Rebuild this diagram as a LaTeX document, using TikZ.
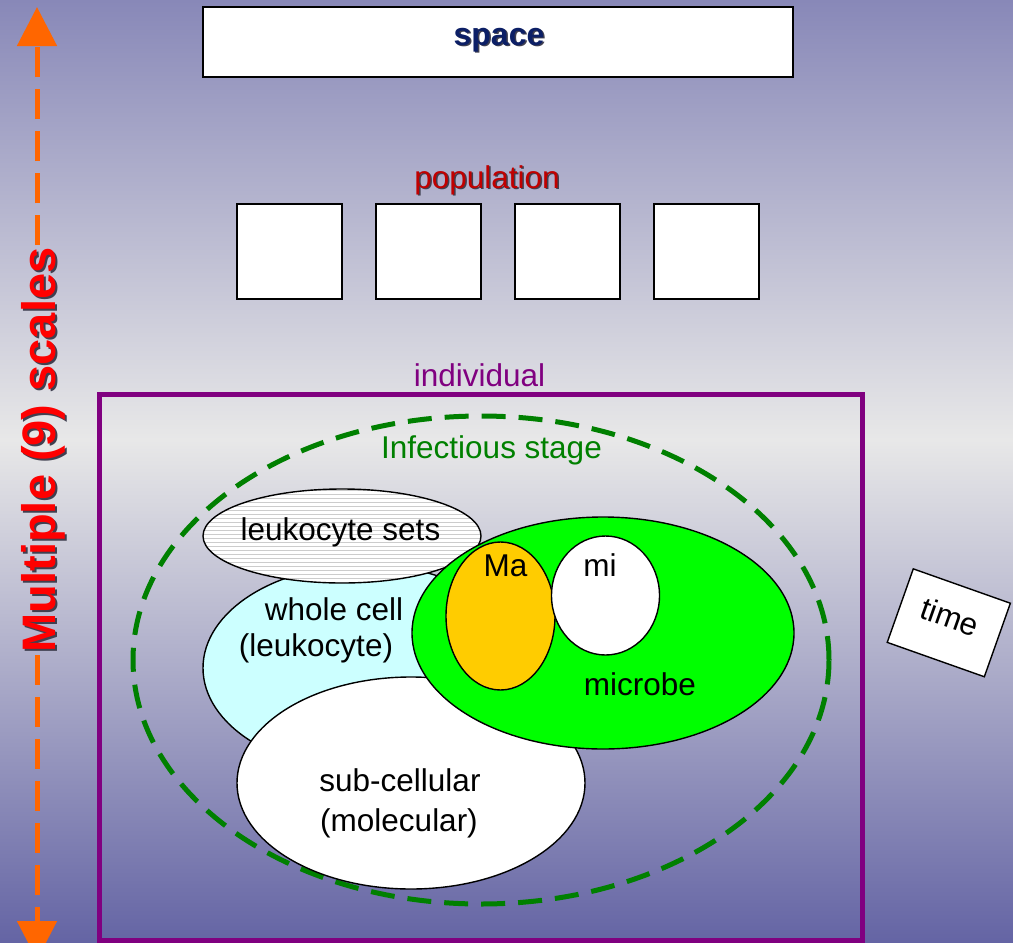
\documentclass[tikz,border=0pt]{standalone}
\usepackage{fontspec}
\setmainfont{Liberation Sans}
\usetikzlibrary{shapes.geometric,arrows.meta}
\definecolor{bgtop}{HTML}{8888B8}
\definecolor{bgmid}{HTML}{E8E8E8}
\definecolor{bgbot}{HTML}{6464A4}
\definecolor{arroworange}{HTML}{FF6600}
\definecolor{indpurple}{HTML}{800080}
\definecolor{infgreen}{HTML}{008000}
\definecolor{popred}{HTML}{C00000}
\definecolor{spaceblue}{HTML}{0C1F66}
\definecolor{cellcyan}{HTML}{CCFFFF}
\definecolor{microbegreen}{HTML}{00FF00}
\definecolor{maorange}{HTML}{FFCC00}
\definecolor{shadowgray}{HTML}{404050}
\begin{document}
\begin{tikzpicture}[x=1pt,y=-1pt,
  lbl/.style={font=\fontsize{31.5}{36}\selectfont, inner sep=0pt, anchor=base},
  blob/.style={ellipse, draw=black, line width=1.4pt, inner sep=0pt},
  whitebox/.style={rectangle, draw=black, fill=white, line width=1.4pt, inner sep=0pt},
  orangeline/.style={draw=arroworange, line width=5pt, dash pattern=on 30pt off 12pt, -{Triangle[length=39pt,width=39pt]}},
]
\useasboundingbox (0,0) rectangle (1013,943);
\clip (0,0) rectangle (1013,943);
% background
\shade[top color=bgtop, bottom color=bgmid] (0,0) rectangle (1013,440);
\shade[top color=bgmid, bottom color=bgbot] (0,439.5) rectangle (1013,943);

% vertical scale arrow
\coordinate (atop) at (37,7);
\coordinate (abot) at (37,960);
\coordinate (ttop) at (37,245);
\coordinate (tbot) at (37,655);
\draw[orangeline] (ttop) -- (atop);
\draw[orangeline] (tbot) -- (abot);
\node[text=shadowgray, rotate=90, anchor=base, inner sep=0pt, font=\fontsize{47}{52}\selectfont\bfseries] (scalesshadow) at (57,452) {Multiple (9) scales};
\node[text=red, rotate=90, anchor=base, inner sep=0pt, font=\fontsize{47}{52}\selectfont\bfseries] (scales) at (55,450) {Multiple (9) scales};

% space
\node[whitebox, minimum width=590, minimum height=70] (spacebox) at (498,42) {};
\node[lbl, text=shadowgray, font=\fontsize{32}{36}\selectfont\bfseries] (spaceshadow) at (500.5,46.5) {space};
\node[lbl, text=spaceblue, font=\fontsize{32}{36}\selectfont\bfseries] (spacelbl) at (499,45) {space};

% population
\node[lbl, text=shadowgray] (popshadow) at (488.5,189.5) {population};
\node[lbl, text=popred] (poplbl) at (487,188) {population};
\node[whitebox, minimum width=105, minimum height=95] (pop1) at (289.5,251.5) {};
\node[whitebox, minimum width=105, minimum height=95] (pop2) at (428.5,251.5) {};
\node[whitebox, minimum width=105, minimum height=95] (pop3) at (567.5,251.5) {};
\node[whitebox, minimum width=105, minimum height=95] (pop4) at (706.5,251.5) {};

% individual
\node[lbl, text=indpurple] (indlbl) at (479.5,386.5) {individual};
\node[draw=indpurple, line width=5pt, minimum width=763, minimum height=546, inner sep=0pt] (indiv) at (480.5,667) {};

% infectious stage
\node[ellipse, draw=infgreen, line width=5pt, dash pattern=on 24pt off 13pt, minimum width=696, minimum height=488, inner sep=0pt] (infect) at (481,660) {};
\node[lbl, text=infgreen] (inflbl) at (491.5,458) {Infectious stage};

% cells
\node[blob, fill=cellcyan, minimum width=324, minimum height=206] (wholecell) at (365,668) {};
\node[blob, fill=white, minimum width=348, minimum height=212] (subcell) at (411,783) {};
\node[blob, fill=white, minimum width=278, minimum height=94,
  path picture={\foreach \k in {0,...,24} \draw[gray!40, line width=0.5pt] ([yshift=-\k*4pt-1pt]path picture bounding box.north west) -- ([yshift=-\k*4pt-1pt]path picture bounding box.north east);}] (leukosets) at (342,536) {};
\node[blob, fill=microbegreen, minimum width=382, minimum height=232] (microbe) at (603,633) {};
\node[blob, fill=maorange, minimum width=109, minimum height=148] (ma) at (500.5,616) {};
\node[blob, fill=white, minimum width=108, minimum height=119] (mi) at (605.5,595.5) {};

\node[lbl] (leukolbl) at (340.5,540) {leukocyte sets};
\node[lbl] (wholelbl1) at (334,620) {whole cell};
\node[lbl] (wholelbl2) at (316,656) {(leukocyte)};
\node[lbl] (malbl) at (505.5,576) {Ma};
\node[lbl] (milbl) at (600,576) {mi};
\node[lbl] (microbelbl) at (640,695) {microbe};
\node[lbl] (sublbl1) at (400,791) {sub-cellular};
\node[lbl] (sublbl2) at (399,831) {(molecular)};

% time
\node[whitebox, rotate=-19.5, minimum width=103, minimum height=78] (timebox) at (948.8,622.8) {};
\node[rotate=-19.5, inner sep=0pt, font=\fontsize{31.5}{36}\selectfont] (timelbl) at (950,617) {time};
\end{tikzpicture}
\end{document}
